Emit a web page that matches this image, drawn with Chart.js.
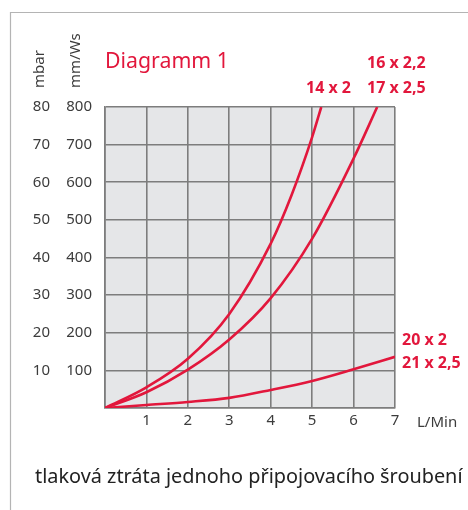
<!DOCTYPE html>
<html>
<head>
<meta charset="utf-8">
<script src="https://cdn.jsdelivr.net/npm/chart.js@4"></script>
<style>
  html, body { margin: 0; padding: 0; background: #fff; }
  canvas { display: block; }
</style>
</head>
<body>
<canvas id="chart" width="468" height="510"></canvas>
<script>
// Flow (L/Min) and pressure loss (mm/Ws)
const flowA = [0, 1, 2, 3, 4, 4.5, 5, 5.22];
const lossA = [0, 55, 131, 250, 437, 565, 720, 800];   // 14 x 2

const flowB = [0, 1, 2, 3, 4, 5, 6, 6.57];
const lossB = [0, 42, 102, 182, 292, 450, 663, 800];   // 16 x 2,2 / 17 x 2,5

const flowC = [0, 1, 2, 3, 4, 5, 6, 7];
const lossC = [0, 8, 16, 27, 48, 72, 103, 136];        // 20 x 2 / 21 x 2,5

const xTicks = [1, 2, 3, 4, 5, 6, 7];
const yTicksWs = [100, 200, 300, 400, 500, 600, 700, 800];
const yTicksBar = [10, 20, 30, 40, 50, 60, 70, 80];

const RED = '#e2173c';
const GRID = '#7d7d7d';
const TXT = '#3c3c3c';
const FONT = '"Noto Sans", "Open Sans", sans-serif';

function toPoints(xs, ys) {
    return xs.map((x, i) => ({ x: x, y: ys[i] }));
}

function lineSet(label, xs, ys) {
    return {
        label: label,
        data: toPoints(xs, ys),
        borderColor: RED,
        borderWidth: 2.6,
        pointRadius: 0,
        fill: false,
        cubicInterpolationMode: 'monotone'
    };
}

// fit a text to a given width by scaling the font size
function fitFont(ctx, text, width, weight) {
    ctx.font = `${weight} 20px ${FONT}`;
    const w = ctx.measureText(text).width;
    return `${weight} ${(20 * width / w).toFixed(2)}px ${FONT}`;
}

const decor = {
    id: 'decor',
    beforeDraw(chart) {
        const ctx = chart.ctx;
        const a = chart.chartArea;
        ctx.save();
        ctx.fillStyle = '#fff';
        ctx.fillRect(0, 0, chart.width, chart.height);
        // outer frame (top and left edge)
        ctx.strokeStyle = '#b4b4b4';
        ctx.lineWidth = 1.2;
        ctx.beginPath();
        ctx.moveTo(chart.width, 12.5);
        ctx.lineTo(10.5, 12.5);
        ctx.lineTo(10.5, chart.height);
        ctx.stroke();
        // plot background
        ctx.fillStyle = '#e5e6e8';
        ctx.fillRect(a.left, a.top, a.right - a.left, a.bottom - a.top);
        ctx.restore();
    },
    afterDraw(chart) {
        const ctx = chart.ctx;
        ctx.save();

        // rotated unit labels
        ctx.fillStyle = TXT;
        ctx.font = `15px ${FONT}`;
        ctx.textBaseline = 'middle';
        [['mbar', 40, 88], ['mm/Ws', 76, 88]].forEach(([t, x, y]) => {
            ctx.save();
            ctx.translate(x, y);
            ctx.rotate(-Math.PI / 2);
            ctx.textAlign = 'left';
            ctx.fillText(t, 0, 0);
            ctx.restore();
        });
        ctx.textBaseline = 'alphabetic';
        ctx.textAlign = 'left';

        // title
        ctx.fillStyle = RED;
        ctx.font = fitFont(ctx, 'Diagramm 1', 124, 'normal');
        ctx.fillText('Diagramm 1', 105, 68);

        // series labels
        ctx.font = `bold 16px ${FONT}`;
        ctx.fillText('14 x 2', 306, 93);
        ctx.fillText('16 x 2,2', 367, 68);
        ctx.fillText('17 x 2,5', 367, 93);
        ctx.fillText('20 x 2', 402, 345);
        ctx.fillText('21 x 2,5', 402, 368);

        // x unit
        ctx.fillStyle = TXT;
        ctx.font = `15px ${FONT}`;
        ctx.fillText('L/Min', 417, 427);

        // caption
        ctx.fillStyle = '#222';
        const cap = 'tlaková ztráta jednoho připojovacího šroubení';
        ctx.font = fitFont(ctx, cap, 428, 'normal');
        ctx.fillText(cap, 35, 483);
        ctx.restore();
    }
};

const ctx = document.getElementById('chart').getContext('2d');
const chart = new Chart(ctx, {
    type: 'line',
    data: {
        datasets: [
            lineSet('14 x 2', flowA, lossA),
            lineSet('16 x 2,2 / 17 x 2,5', flowB, lossB),
            lineSet('20 x 2 / 21 x 2,5', flowC, lossC)
        ]
    },
    options: {
        responsive: false,
        animation: false,
        layout: { padding: { top: 107, right: 73, left: 0, bottom: 0 } },
        plugins: {
            legend: { display: false },
            tooltip: { enabled: false }
        },
        scales: {
            x: {
                type: 'linear',
                min: 0,
                max: 7,
                afterBuildTicks: s => { s.ticks = [0].concat(xTicks).map(v => ({ value: v })); },
                ticks: {
                    callback: v => (xTicks.includes(v) ? String(v) : ''),
                    font: { family: FONT, size: 15 },
                    color: TXT,
                    padding: 4,
                    maxRotation: 0
                },
                grid: { color: GRID, lineWidth: 1.6, drawTicks: false },
                border: { color: GRID, width: 1.6 },
                afterFit: s => { s.height = 102; }
            },
            y: {
                position: 'left',
                weight: 0,
                min: 0,
                max: 800,
                afterBuildTicks: s => { s.ticks = [0].concat(yTicksWs).map(v => ({ value: v })); },
                ticks: {
                    callback: v => (yTicksWs.includes(v) ? String(v) : ''),
                    font: { family: FONT, size: 15 },
                    color: TXT,
                    padding: 13
                },
                grid: { color: GRID, lineWidth: 1.6, drawTicks: false },
                border: { color: GRID, width: 1.6 },
                afterFit: s => { s.width = 50; }
            },
            yBar: {
                position: 'left',
                weight: 1,
                min: 0,
                max: 80,
                afterBuildTicks: s => { s.ticks = [0].concat(yTicksBar).map(v => ({ value: v })); },
                ticks: {
                    callback: v => (yTicksBar.includes(v) ? String(v) : ''),
                    font: { family: FONT, size: 15 },
                    color: TXT,
                    padding: 5
                },
                grid: { display: false, drawTicks: false },
                border: { display: false },
                afterFit: s => { s.width = 55; }
            }
        }
    },
    plugins: [decor]
});
</script>
</body>
</html>
